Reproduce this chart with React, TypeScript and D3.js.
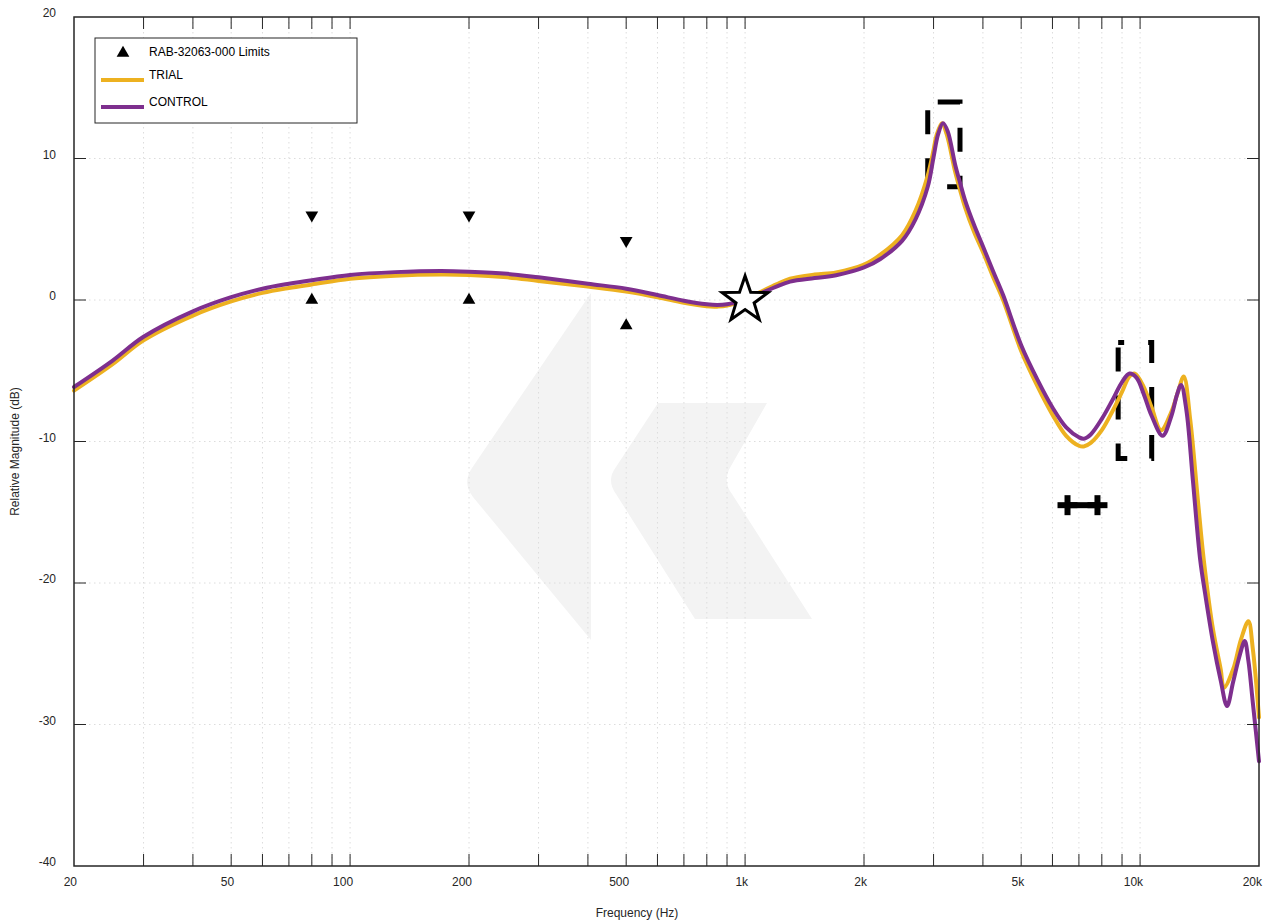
import { useEffect, useRef } from "react";
import * as d3 from "d3";

// measured response, TRIAL (Hz / dB)
const trialFreq = [20, 25, 30, 40, 50, 60, 70, 80, 100, 130, 170, 200, 250, 300, 400, 500, 600, 700, 800, 850, 900, 1000, 1100, 1200, 1300, 1500, 1700, 2000, 2200, 2500, 2700, 2900, 3000, 3050, 3150, 3240, 3400, 3500, 3600, 3800, 4000, 4250, 4500, 5000, 5500, 6000, 6500, 7000, 7200, 7500, 8000, 8500, 9000, 9400, 9700, 10200, 10700, 11300, 12000, 12500, 12900, 13400, 14000, 14500, 15300, 16000, 16300, 17200, 18000, 18800, 19300, 20000];
const trialDb = [-6.4, -4.55, -2.85, -1.1, -0.1, 0.5, 0.85, 1.1, 1.5, 1.72, 1.8, 1.77, 1.6, 1.35, 0.95, 0.6, 0.2, -0.2, -0.45, -0.47, -0.4, 0.05, 0.6, 1.1, 1.5, 1.8, 1.95, 2.5, 3.2, 4.6, 6.3, 8.8, 10.6, 11.6, 12.5, 11.7, 9.1, 7.8, 6.6, 4.8, 3.4, 1.6, 0.0, -3.6, -6.1, -8.1, -9.6, -10.3, -10.35, -10.1, -9.2, -7.9, -6.5, -5.4, -5.2, -6.1, -7.6, -9.2, -7.9, -6.4, -5.4, -8.5, -14.1, -18.4, -23.3, -26.1, -27.4, -26.1, -24.0, -22.7, -24.7, -29.5];

// measured response, CONTROL
const controlFreq = [20, 25, 30, 40, 50, 60, 70, 80, 100, 130, 170, 200, 250, 300, 400, 500, 600, 700, 800, 850, 900, 1000, 1100, 1200, 1300, 1500, 1700, 2000, 2200, 2500, 2700, 2900, 3000, 3080, 3170, 3260, 3400, 3500, 3600, 3800, 4000, 4250, 4500, 5000, 5500, 6000, 6500, 7000, 7200, 7500, 8000, 8500, 9000, 9400, 9800, 10200, 10700, 11400, 12000, 12400, 12700, 13100, 13600, 14200, 14600, 15300, 16000, 16600, 17200, 17800, 18400, 18800, 19300, 20000];
const controlDb = [-6.15, -4.3, -2.6, -0.8, 0.2, 0.8, 1.15, 1.4, 1.77, 1.97, 2.05, 2.0, 1.85, 1.6, 1.15, 0.8, 0.35, -0.05, -0.3, -0.35, -0.3, 0.05, 0.5, 0.95, 1.3, 1.55, 1.75, 2.3, 2.9, 4.2, 5.7, 8.0, 10.1, 11.7, 12.5, 11.9, 9.6, 8.3, 7.1, 5.3, 3.8, 2.0, 0.35, -3.2, -5.65, -7.6, -9.0, -9.7, -9.8, -9.5, -8.4, -7.1, -5.8, -5.2, -5.5, -6.6, -8.2, -9.6, -8.2, -6.7, -6.0, -7.8, -12.7, -18.4, -20.7, -24.2, -26.9, -28.7, -27.0, -25.3, -24.1, -25.5, -28.5, -32.6];

// RAB-32063-000 limits
const limitFreq = [80, 200, 500];
const limitUpper = [6, 6, 4.2];
const limitLower = [0, 0, -1.8];

// tolerance boxes
const boxFreqLo = [2900, 8800];
const boxFreqHi = [3500, 10700];
const boxDbLo = [8, -11.2];
const boxDbHi = [14, -3];

// frequency span marker
const spanFreq = [6550, 7800];
const spanDb = -14.5;

// reference point
const refFreq = 1000;
const refDb = 0;

const xTicks = [20, 30, 40, 50, 60, 70, 80, 90, 100, 200, 300, 400, 500, 600, 700, 800, 900, 1000, 2000, 3000, 4000, 5000, 6000, 7000, 8000, 9000, 10000, 20000];
const xLabelVals = [20, 50, 100, 200, 500, 1000, 2000, 5000, 10000, 20000];
const xLabelText = ["20", "50", "100", "200", "500", "1k", "2k", "5k", "10k", "20k"];
const yTicks = [-40, -30, -20, -10, 0, 10, 20];

const seriesNames = ["TRIAL", "CONTROL"];
const seriesColors = ["#EDB120", "#7E2F8E"];

const FONT = "'Liberation Sans', Arial, Helvetica, sans-serif";
const INK = "#262626";

export default function App() {
  const svgRef = useRef<SVGSVGElement | null>(null);

  useEffect(() => {
    const W = 1274, H = 923;
    const m = { top: 17, right: 15, bottom: 57, left: 74 };
    const svg = d3.select(svgRef.current);
    svg.selectAll("*").remove();
    svg.attr("viewBox", `0 0 ${W} ${H}`);

    const x = d3.scaleLog().domain([20, 20000]).range([m.left, W - m.right]);
    const y = d3.scaleLinear().domain([-40, 20]).range([H - m.bottom, m.top]);
    const [x0, x1] = x.range();
    const [y0, y1] = y.range();

    svg.append("rect").attr("width", W).attr("height", H).attr("fill", "#fff");

    // watermark logo
    const wm = svg.append("g").attr("fill", "#f3f3f3");
    wm.append("path").attr("d", "M591,293 L472,468 Q462,483 473,497 L591,640 Z");
    wm.append("path").attr("d", "M658,403 L767,403 L731,466 Q722,481 732,494 L812,619 L695,619 L616,494 Q606,480 616,467 Z");

    // grid
    const grid = svg.append("g").attr("stroke", "#dcdcdc").attr("stroke-width", 1).attr("stroke-dasharray", "1.5,3.5");
    xTicks.slice(1, -1).forEach(f => {
      grid.append("line").attr("x1", x(f)).attr("x2", x(f)).attr("y1", y1).attr("y2", y0);
    });
    yTicks.slice(1, -1).forEach(v => {
      grid.append("line").attr("x1", x0).attr("x2", x1).attr("y1", y(v)).attr("y2", y(v));
    });

    // tolerance boxes (dashed)
    const offsets = [38, 18];
    boxFreqLo.forEach((f, i) => {
      const a = x(f), b = x(boxFreqHi[i]), t = y(boxDbHi[i]), bt = y(boxDbLo[i]);
      svg.append("path")
        .attr("d", `M${a},${t} L${b},${t} L${b},${bt} L${a},${bt} Z`)
        .attr("fill", "none").attr("stroke", "#000").attr("stroke-width", 5)
        .attr("stroke-dasharray", "24,24").attr("stroke-dashoffset", offsets[i]);
    });

    // span marker
    const sp = svg.append("g").attr("stroke", "#000").attr("stroke-width", 6);
    sp.append("line").attr("x1", x(spanFreq[0])).attr("x2", x(spanFreq[1])).attr("y1", y(spanDb)).attr("y2", y(spanDb));
    spanFreq.forEach(f => {
      sp.append("line").attr("x1", x(f) - 10).attr("x2", x(f) + 10).attr("y1", y(spanDb)).attr("y2", y(spanDb));
      sp.append("line").attr("x1", x(f)).attr("x2", x(f)).attr("y1", y(spanDb) - 10).attr("y2", y(spanDb) + 10);
    });

    // limit triangles
    const tri = d3.symbol().type(d3.symbolTriangle).size(70);
    limitFreq.forEach((f, i) => {
      svg.append("path").attr("d", tri()).attr("fill", "#000")
        .attr("transform", `translate(${x(f)},${y(limitLower[i])})`);
      svg.append("path").attr("d", tri()).attr("fill", "#000")
        .attr("transform", `translate(${x(f)},${y(limitUpper[i])}) rotate(180)`);
    });

    // curves
    const line = d3.line<[number, number]>()
      .x(d => x(d[0])).y(d => y(d[1])).curve(d3.curveCatmullRom.alpha(0.5));
    const series = [
      trialFreq.map((f, i) => [f, trialDb[i]] as [number, number]),
      controlFreq.map((f, i) => [f, controlDb[i]] as [number, number]),
    ];
    series.forEach((s, i) => {
      svg.append("path").datum(s).attr("d", line)
        .attr("fill", "none").attr("stroke", seriesColors[i]).attr("stroke-width", 4)
        .attr("stroke-linejoin", "round").attr("stroke-linecap", "round");
    });

    // reference star
    const R = 24, r = 9.5;
    const starPts: [number, number][] = d3.range(10).map(k => {
      const ang = -Math.PI / 2 + k * Math.PI / 5;
      const rad = k % 2 === 0 ? R : r;
      return [x(refFreq) + rad * Math.cos(ang), y(refDb) + rad * Math.sin(ang)];
    });
    svg.append("path").attr("d", d3.line().curve(d3.curveLinearClosed)(starPts))
      .attr("fill", "#fff").attr("stroke", "#000").attr("stroke-width", 3).attr("stroke-linejoin", "miter");

    // frame + ticks
    const ax = svg.append("g").attr("stroke", INK);
    ax.append("rect").attr("x", x0).attr("y", y1).attr("width", x1 - x0).attr("height", y0 - y1)
      .attr("fill", "none").attr("stroke-width", 1.5);
    xTicks.slice(1, -1).forEach(f => {
      ax.append("line").attr("x1", x(f)).attr("x2", x(f)).attr("y1", y0).attr("y2", y0 - 12);
      ax.append("line").attr("x1", x(f)).attr("x2", x(f)).attr("y1", y1).attr("y2", y1 + 12);
    });
    yTicks.slice(1, -1).forEach(v => {
      ax.append("line").attr("x1", x0).attr("x2", x0 + 12).attr("y1", y(v)).attr("y2", y(v));
      ax.append("line").attr("x1", x1).attr("x2", x1 - 12).attr("y1", y(v)).attr("y2", y(v));
    });

    const txt = svg.append("g").attr("font-family", FONT).attr("font-size", 12).attr("fill", INK);
    xLabelVals.forEach((f, i) => {
      txt.append("text").attr("x", x(f) + 3).attr("y", y0 + 20).attr("text-anchor", "end").text(xLabelText[i]);
    });
    yTicks.forEach(v => {
      txt.append("text").attr("x", x0 - 18).attr("y", y(v)).attr("text-anchor", "end").text(String(v));
    });
    txt.append("text").attr("x", 637).attr("y", 917).attr("text-anchor", "middle").text("Frequency (Hz)");
    txt.append("text").attr("transform", `translate(19,${(y0 + y1) / 2 + 10}) rotate(-90)`)
      .attr("text-anchor", "middle").text("Relative Magnitude (dB)");

    // legend
    const lg = svg.append("g").attr("transform", "translate(95,38)");
    lg.append("rect").attr("width", 262).attr("height", 85).attr("fill", "#fff").attr("stroke", INK).attr("stroke-width", 1);
    lg.append("path").attr("d", tri()).attr("fill", "#000").attr("transform", "translate(28,15)");
    lg.append("text").attr("x", 54).attr("y", 18).attr("font-family", FONT).attr("font-size", 12).attr("fill", "#000").text("RAB-32063-000 Limits");
    seriesNames.forEach((n, i) => {
      const yy = 42 + i * 27;
      lg.append("line").attr("x1", 6).attr("x2", 49).attr("y1", yy).attr("y2", yy)
        .attr("stroke", seriesColors[i]).attr("stroke-width", 4);
      lg.append("text").attr("x", 54).attr("y", yy - 1).attr("font-family", FONT).attr("font-size", 12).attr("fill", "#000").text(n);
    });
  }, []);

  return (
    <svg ref={svgRef} width={1274} height={923}
      style={{ position: "fixed", left: 0, top: 0, display: "block" }} />
  );
}
